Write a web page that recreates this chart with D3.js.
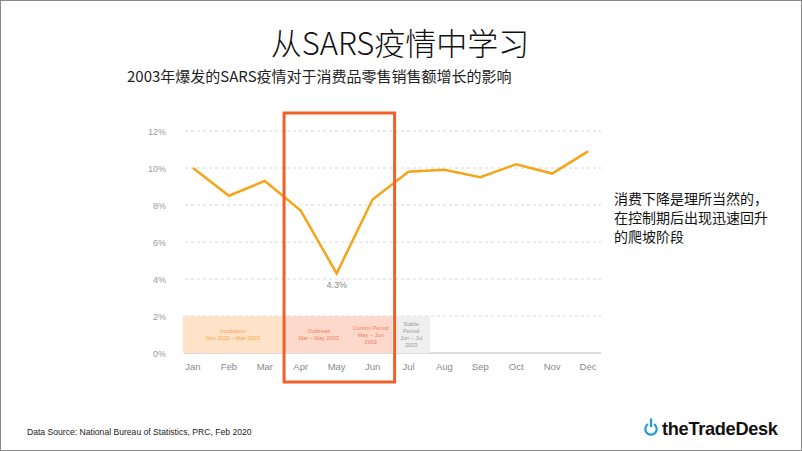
<!DOCTYPE html>
<html><head><meta charset="utf-8">
<script src="https://cdn.jsdelivr.net/npm/d3@7"></script>
<style>
html,body{margin:0;padding:0;background:#fff;}
svg{display:block;}
text{font-family:"Helvetica Neue","Liberation Sans","Noto Sans CJK SC",sans-serif;}
</style></head>
<body>
<svg id="c" width="802" height="451"></svg>
<script>
const months = ["Jan","Feb","Mar","Apr","May","Jun","Jul","Aug","Sep","Oct","Nov","Dec"];
const growth = [10.0, 8.5, 9.3, 7.7, 4.3, 8.3, 9.8, 9.9, 9.5, 10.2, 9.7, 10.9];
const yTicks = [0, 2, 4, 6, 8, 10, 12];
const phaseNames = ["incubation", "outbreak", "stable"];
const phaseStart = [-0.28, 2.5, 5.55];
const phaseEnd = [2.5, 5.55, 6.6];
const phaseMax = [2, 2, 2];
const phaseLabels = [
  ["Incubation", "Nov 2002 – Mar 2003"],
  ["Outbreak", "Mar – May 2003"],
  ["Stable", "Period", "Jun – Jul", "2003"]
];
const controlLabel = ["Control Period", "May – Jun", "2003"];
const highlightStart = 2.55, highlightEnd = 5.6;
const title = "从SARS疫情中学习";
const subtitle = "2003年爆发的SARS疫情对于消费品零售销售额增长的影响";
const note = ["消费下降是理所当然的，", "在控制期后出现迅速回升", "的爬坡阶段"];
const source = "Data Source: National Bureau of Statistics, PRC, Feb 2020";

const svg = d3.select("#c");
const W = 802, H = 451;

svg.append("rect").attr("x",0.5).attr("y",0.5).attr("width",W-1).attr("height",H-1)
  .attr("fill","#fff").attr("stroke","#8a8a8a").attr("stroke-width",1);

// scales
const xi = d3.scaleLinear().domain([0, 11]).range([193, 588]);
const x = d3.scalePoint().domain(months).range([193, 588]);
const y = d3.scaleLinear().domain([0, 12]).range([353, 131]);

// gridlines
svg.append("g").selectAll("line").data(yTicks.filter(d => d > 0)).join("line")
  .attr("x1", 185).attr("x2", 601)
  .attr("y1", d => y(d)).attr("y2", d => y(d))
  .attr("stroke", "#d6d6d6").attr("stroke-width", 1).attr("stroke-dasharray", "3,3");

// baseline
svg.append("line").attr("x1", 184).attr("x2", 601).attr("y1", y(0)).attr("y2", y(0))
  .attr("stroke", "#cfcfcf").attr("stroke-width", 1.5);

// phase bands
const phaseFill = ["#fee3c9", "#fdd9cb", "#efefef"];
const phaseText = ["#f6a650", "#f0805e", "#9a9a9a"];
const bands = svg.append("g");
phaseNames.forEach((n, i) => {
  bands.append("rect")
    .attr("x", xi(phaseStart[i])).attr("width", xi(phaseEnd[i]) - xi(phaseStart[i]))
    .attr("y", y(phaseMax[i])).attr("height", y(0) - y(phaseMax[i]))
    .attr("fill", phaseFill[i]);
});
function multiLine(g, lines, cx, cy, color, lh) {
  const t = g.append("text").attr("text-anchor", "middle").attr("fill", color)
    .attr("font-size", 5.6);
  const off = (lines.length - 1) * lh / 2;
  lines.forEach((l, k) => {
    t.append("tspan").attr("x", cx).attr("y", cy - off + k * lh + 2).text(l);
  });
}
const bandMid = y(1);
multiLine(bands, phaseLabels[0], (xi(phaseStart[0]) + xi(phaseEnd[0])) / 2, bandMid, phaseText[0], 7);
multiLine(bands, phaseLabels[1], xi(3.5), bandMid, phaseText[1], 7);
multiLine(bands, controlLabel, xi(4.95), bandMid, phaseText[1], 7);
multiLine(bands, phaseLabels[2], (xi(phaseStart[2]) + xi(phaseEnd[2])) / 2, bandMid, phaseText[2], 7);

// y axis labels
svg.append("g").selectAll("text").data(yTicks).join("text")
  .attr("x", 166).attr("y", d => y(d) + 3.5).attr("text-anchor", "end")
  .attr("font-size", 9).attr("fill", "#9a9a9a").text(d => d + "%");

// x axis labels
svg.append("g").selectAll("text").data(months).join("text")
  .attr("x", d => x(d)).attr("y", 369.5).attr("text-anchor", "middle")
  .attr("font-size", 9.5).attr("fill", "#8a8a8a").text(d => d);

// line
const line = d3.line().x((d, i) => x(months[i])).y(d => y(d));
svg.append("path").datum(growth).attr("d", line)
  .attr("fill", "none").attr("stroke", "#f6a418").attr("stroke-width", 2.5)
  .attr("stroke-linejoin", "miter");

// min label
const minI = growth.indexOf(d3.min(growth));
svg.append("text").attr("x", x(months[minI])).attr("y", y(growth[minI]) + 15)
  .attr("text-anchor", "middle").attr("font-size", 9).attr("fill", "#8a8a8a")
  .text(growth[minI].toFixed(1) + "%");

// highlight rectangle
svg.append("rect").attr("x", xi(highlightStart) - 0.5).attr("y", 113)
  .attr("width", xi(highlightEnd) - xi(highlightStart) + 1).attr("height", 382 - 113)
  .attr("fill", "none").attr("stroke", "#f2602a").attr("stroke-width", 3);

// title
svg.append("text").attr("x", 400).attr("y", 55).attr("text-anchor", "middle")
  .attr("font-size", 31).attr("font-weight", 300).attr("fill", "#111")
  .style("font-family", "'Noto Sans CJK SC Light', 'Noto Sans CJK SC DemiLight', 'Noto Sans CJK SC', sans-serif").text(title);
svg.append("text").attr("x", 127).attr("y", 82).attr("font-size", 15)
  .attr("fill", "#222").style("font-family", "'Noto Sans CJK SC', sans-serif").attr("font-weight", 400)
  .text(subtitle);

// note
const nt = svg.append("text").attr("font-size", 14).attr("fill", "#111")
  .style("font-family", "'Noto Sans CJK SC', sans-serif");
note.forEach((l, k) => nt.append("tspan").attr("x", 614).attr("y", 204 + k * 19).text(l));

// footer
svg.append("text").attr("x", 27).attr("y", 435).attr("font-size", 8.6).attr("fill", "#222")
  .text(source);

// logo
const lg = svg.append("g");
lg.append("path").attr("d", d3.arc()({innerRadius: 4.6, outerRadius: 6.8, startAngle: 0.55, endAngle: 2 * Math.PI - 0.55}))
  .attr("transform", "translate(651,429)").attr("fill", "#1a9ad8");
lg.append("rect").attr("x", 650).attr("y", 418.5).attr("width", 2.2).attr("height", 8.5).attr("fill", "#1a9ad8");
lg.append("text").attr("x", 662).attr("y", 435).attr("font-size", 18.2).attr("font-weight", 700)
  .attr("fill", "#111").attr("letter-spacing", -0.3).text("theTradeDesk");
</script>
</body></html>
